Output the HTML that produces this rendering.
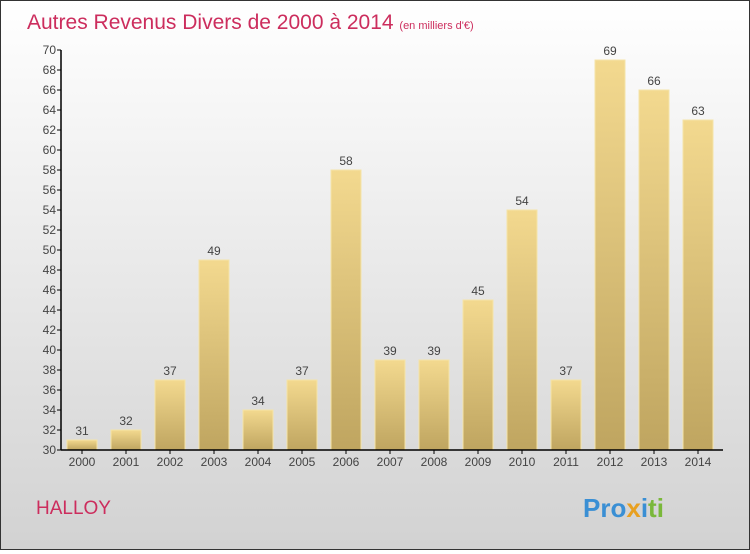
<!DOCTYPE html>
<html><head><meta charset="utf-8"><style>
html,body{margin:0;padding:0}
body{width:750px;height:550px;overflow:hidden;font-family:"Liberation Sans",sans-serif}
#wrap{position:relative;width:748px;height:548px;border:1px solid #333;background:linear-gradient(#ffffff,#d2d2d2)}
</style></head><body>
<div id="wrap">
<svg id="chart" width="748" height="548">
<defs><linearGradient id="bg" x1="0" y1="0" x2="0" y2="1"><stop offset="0" stop-color="#f3d98f"/><stop offset="1" stop-color="#bfa560"/></linearGradient></defs>
<text x="26" y="28" font-size="21" fill="#cc2d5d">Autres Revenus Divers de 2000 à 2014 <tspan font-size="11">(en milliers d'€)</tspan></text>
<text x="35" y="513" font-size="19" fill="#cc2d5d">HALLOY</text>
<text x="582" y="516" font-size="26" font-weight="bold"><tspan fill="#3a8fd4">Pro</tspan><tspan fill="#e8a020">x</tspan><tspan fill="#3a8fd4">i</tspan><tspan fill="#7ab83a">ti</tspan></text>
<g id="plot"></g>
</svg>
</div>
<script>
const categories=["2000","2001","2002","2003","2004","2005","2006","2007","2008","2009","2010","2011","2012","2013","2014"];
const values=[31,32,37,49,34,37,58,39,39,45,54,37,69,66,63];
const yTicks=[30,32,34,36,38,40,42,44,46,48,50,52,54,56,58,60,62,64,66,68,70];
const ns="http://www.w3.org/2000/svg";
const g=document.getElementById('plot');
const x0=60,yBase=449,yMin=30,yMax=70,yTop=49,step=44,bw=30;
const y=v=>yBase-(v-yMin)/(yMax-yMin)*(yBase-yTop);
const xc=i=>x0+21+i*step;
function el(t,a){const e=document.createElementNS(ns,t);for(const k in a)e.setAttribute(k,a[k]);g.appendChild(e);return e;}
values.forEach((v,i)=>{
 const r=el('rect',{x:xc(i)-bw/2,y:y(v),width:bw,height:yBase-y(v),fill:'url(#bg)',stroke:'#f5e4a8','stroke-width':1});
 
 
 const t=el('text',{x:xc(i),y:y(v)-5,'font-size':12,fill:'#444','text-anchor':'middle'});t.textContent=v;
 
 
 const c=el('text',{x:xc(i),y:yBase+16,'font-size':12,fill:'#444','text-anchor':'middle'});c.textContent=categories[i];
 
 
 el('line',{x1:xc(i),x2:xc(i),y1:yBase,y2:yBase+4,stroke:'#000'});
});
yTicks.forEach(v=>{
 el('line',{x1:x0-4,x2:x0,y1:y(v),y2:y(v),stroke:'#000'});
 const t=el('text',{x:x0-5,y:y(v)+4,'font-size':12,fill:'#444','text-anchor':'end'});t.textContent=v;
 
 
});
const ya=el('line',{x1:x0,x2:x0,y1:yTop,y2:yBase,stroke:'#000','stroke-width':1.5});


const xa=el('line',{x1:x0,x2:722,y1:yBase,y2:yBase,stroke:'#000','stroke-width':1.5});


</script>
</body></html>
